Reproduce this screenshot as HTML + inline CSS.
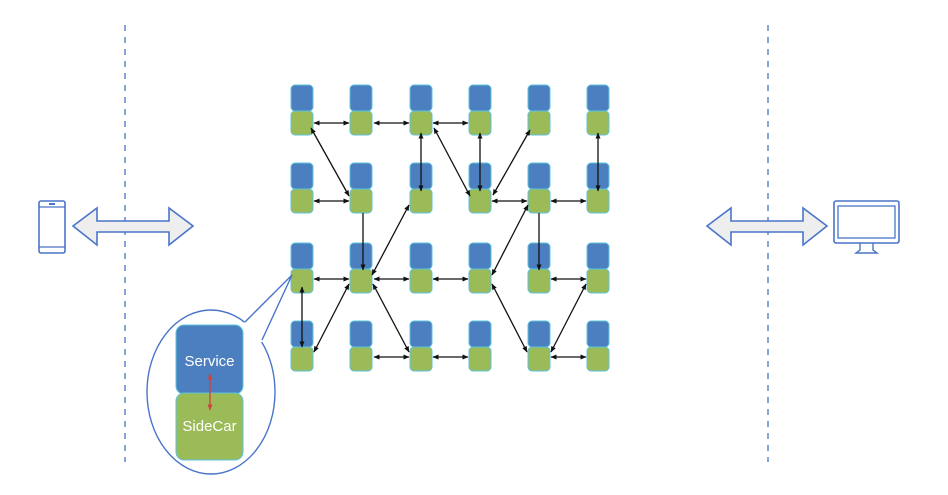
<!DOCTYPE html>
<html><head><meta charset="utf-8"><style>html,body{margin:0;padding:0;background:#fff}svg{display:block}</style></head>
<body>
<svg width="948" height="495" viewBox="0 0 948 495" xmlns="http://www.w3.org/2000/svg" font-family="Liberation Sans, sans-serif">
<defs>
<marker id="a" markerWidth="6" markerHeight="6" refX="5.5" refY="3" orient="auto-start-reverse" markerUnits="userSpaceOnUse"><path d="M0,0.5 L6,3 L0,5.5 Z" fill="#111"/></marker>
<marker id="r" markerWidth="6" markerHeight="6" refX="5.5" refY="3" orient="auto-start-reverse" markerUnits="userSpaceOnUse"><path d="M0,0.5 L6,3 L0,5.5 Z" fill="#d04040"/></marker>
</defs>
<g stroke="#4a74c9" stroke-width="1.3" stroke-dasharray="6,6">
<line x1="125" y1="25" x2="125" y2="462"/><line x1="768" y1="25" x2="768" y2="462"/>
</g>
<path d="M73,226 L97,208 L97,221 L169,221 L169,208 L193,226 L169,245 L169,232 L97,232 L97,245 Z" fill="#eeeeee" stroke="#4a74c9" stroke-width="1.6"/>
<path d="M707,226 L731,208 L731,221 L803,221 L803,208 L827,226 L803,245 L803,232 L731,232 L731,245 Z" fill="#eeeeee" stroke="#4a74c9" stroke-width="1.6"/>
<rect x="39" y="201" width="26" height="52" rx="2" fill="none" stroke="#4a74c9" stroke-width="1.6"/>
<line x1="39" y1="207" x2="65" y2="207" stroke="#4a74c9" stroke-width="1.3"/>
<line x1="39" y1="247" x2="65" y2="247" stroke="#4a74c9" stroke-width="1.3"/>
<rect x="49" y="203" width="6" height="2" fill="#4a74c9"/>
<rect x="834" y="201" width="65" height="42" rx="2" fill="none" stroke="#4a74c9" stroke-width="1.6"/>
<rect x="838" y="206" width="57" height="32" fill="none" stroke="#4a74c9" stroke-width="1.3"/>
<path d="M860,243 L860,250 L856,253 L877,253 L873,250 L873,243" fill="none" stroke="#4a74c9" stroke-width="1.4"/>
<g id="nodes" stroke="#5ec3dc" stroke-width="1"></g>
<g stroke="#111" stroke-width="1.3" marker-start="url(#a)" marker-end="url(#a)" fill="none">
<line x1="314" y1="123" x2="349" y2="123"/><line x1="374" y1="123" x2="409" y2="123"/><line x1="433" y1="123" x2="468" y2="123"/>
<line x1="314" y1="201" x2="349" y2="201"/><line x1="492" y1="201" x2="527" y2="201"/><line x1="551" y1="201" x2="586" y2="201"/>
<line x1="314" y1="279" x2="349" y2="279"/><line x1="374" y1="279" x2="409" y2="279"/><line x1="433" y1="279" x2="468" y2="279"/><line x1="551" y1="279" x2="586" y2="279"/>
<line x1="374" y1="357" x2="409" y2="357"/><line x1="433" y1="357" x2="468" y2="357"/><line x1="551" y1="357" x2="586" y2="357"/>
<line x1="421" y1="133" x2="421" y2="191"/><line x1="480" y1="133" x2="480" y2="191"/><line x1="598" y1="133" x2="598" y2="191"/>
<line x1="302" y1="287" x2="302" y2="347"/>
<line x1="311" y1="128" x2="349" y2="196"/>
<line x1="434" y1="128" x2="470" y2="196"/>
<line x1="530" y1="130" x2="493" y2="195"/>
<line x1="409" y1="205" x2="372" y2="275"/>
<line x1="349" y1="284" x2="314" y2="352"/>
<line x1="373" y1="284" x2="409" y2="352"/>
<line x1="528" y1="205" x2="492" y2="275"/>
<line x1="492" y1="284" x2="527" y2="352"/>
<line x1="586" y1="284" x2="551" y2="352"/>
</g>
<g stroke="#111" stroke-width="1.3" marker-end="url(#a)">
<line x1="363" y1="213" x2="363" y2="270"/>
<line x1="539" y1="213" x2="539" y2="270"/>
</g>
<ellipse cx="211" cy="392" rx="64" ry="82" fill="#fff" stroke="#4a74c9" stroke-width="1.4"/>
<path d="M243,324 L292,275 L262,342 L240,350 Z" fill="#fff"/>
<path d="M245,322 L292,275 L262,340" fill="none" stroke="#4a74c9" stroke-width="1.4"/>
<rect x="176" y="325" width="67" height="69" rx="8" fill="#4b7fbf" stroke="#5ec3dc"/>
<rect x="176" y="393" width="67" height="67" rx="8" fill="#9bbb59" stroke="#5ec3dc"/>
<text x="209.5" y="366" fill="#fff" font-size="15" text-anchor="middle">Service</text>
<text x="209.5" y="431" fill="#fff" font-size="15" text-anchor="middle">SideCar</text>
<line x1="210" y1="374" x2="210" y2="410" stroke="#d04040" stroke-width="1.3" marker-start="url(#r)" marker-end="url(#r)"/>
</svg>
<script>
var g=document.getElementById('nodes'),ns='http://www.w3.org/2000/svg';
[291,350,410,469,528,587].forEach(function(x){[85,163,243,321].forEach(function(y){
var b=document.createElementNS(ns,'rect');b.setAttribute('x',x);b.setAttribute('y',y);b.setAttribute('width',22);b.setAttribute('height',26);b.setAttribute('rx',4);b.setAttribute('fill','#4b7fbf');g.appendChild(b);
var c=document.createElementNS(ns,'rect');c.setAttribute('x',x);c.setAttribute('y',y+26);c.setAttribute('width',22);c.setAttribute('height',24);c.setAttribute('rx',4);c.setAttribute('fill','#9bbb59');g.appendChild(c);
});});
</script>
</body></html>
